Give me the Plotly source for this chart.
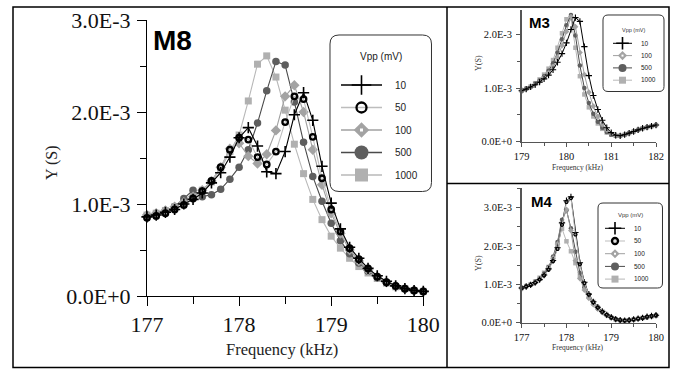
import plotly.graph_objects as go

# ---------------- data (Y in units of 1E-3 S) ----------------
VPP_M8 = ["10", "50", "100", "500", "1000"]
VPP_M3 = ["10", "100", "500", "1000"]
VPP_M4 = ["10", "50", "100", "500", "1000"]

FREQ_M8 = [177.0, 177.1, 177.2, 177.3, 177.4, 177.5, 177.6, 177.7, 177.8, 177.9,
           178.0, 178.1, 178.2, 178.3, 178.4, 178.5, 178.6, 178.7, 178.8, 178.9,
           179.0, 179.1, 179.2, 179.3, 179.4, 179.5, 179.6, 179.7, 179.8, 179.9, 180.0]
M8_10 = [0.86, 0.88, 0.91, 0.94, 1.00, 1.05, 1.12, 1.23, 1.34, 1.51,
         1.72, 1.83, 1.63, 1.35, 1.33, 1.57, 1.97, 2.21, 1.91, 1.41,
         1.01, 0.73, 0.53, 0.41, 0.30, 0.22, 0.16, 0.11, 0.08, 0.06, 0.05]
M8_50 = [0.85, 0.87, 0.90, 0.94, 0.99, 1.06, 1.14, 1.25, 1.40, 1.59,
         1.72, 1.70, 1.51, 1.43, 1.57, 1.89, 2.17, 2.14, 1.73, 1.28,
         0.94, 0.70, 0.52, 0.40, 0.30, 0.21, 0.15, 0.11, 0.08, 0.06, 0.05]
M8_100 = [0.88, 0.90, 0.93, 0.97, 1.02, 1.08, 1.15, 1.25, 1.40, 1.60,
          1.66, 1.52, 1.44, 1.54, 1.80, 2.17, 2.29, 2.00, 1.59, 1.21,
          0.90, 0.68, 0.50, 0.38, 0.28, 0.21, 0.15, 0.11, 0.08, 0.06, 0.05]
M8_500 = [0.87, 0.89, 0.92, 0.97, 1.06, 1.15, 1.08, 1.10, 1.16, 1.27,
          1.40, 1.59, 1.88, 2.23, 2.55, 2.51, 2.11, 1.67, 1.30, 1.03,
          0.79, 0.60, 0.46, 0.36, 0.27, 0.20, 0.15, 0.11, 0.08, 0.06, 0.05]
M8_1000 = [0.88, 0.90, 0.93, 0.97, 1.02, 1.08, 1.15, 1.24, 1.38, 1.57,
           1.75, 2.12, 2.52, 2.61, 2.38, 2.02, 1.65, 1.33, 1.05, 0.83,
           0.65, 0.52, 0.41, 0.32, 0.25, 0.19, 0.14, 0.10, 0.08, 0.06, 0.05]

FREQ_M3 = [179.0, 179.1, 179.2, 179.3, 179.4, 179.5, 179.6, 179.7, 179.8, 179.9,
           180.0, 180.1, 180.2, 180.3, 180.4, 180.5, 180.6, 180.7, 180.8, 180.9,
           181.0, 181.1, 181.2, 181.3, 181.4, 181.5, 181.6, 181.7, 181.8, 181.9, 182.0]
M3_10 = [0.95, 0.98, 1.02, 1.06, 1.11, 1.17, 1.24, 1.34, 1.48, 1.64,
         1.84, 2.09, 2.31, 2.24, 1.77, 1.23, 0.86, 0.60, 0.40, 0.26,
         0.17, 0.12, 0.11, 0.13, 0.16, 0.19, 0.22, 0.25, 0.27, 0.29, 0.31]
M3_100 = [0.95, 0.98, 1.02, 1.07, 1.12, 1.19, 1.28, 1.40, 1.57, 1.79,
          2.05, 2.33, 2.14, 1.66, 1.25, 0.92, 0.66, 0.47, 0.32, 0.22,
          0.15, 0.11, 0.11, 0.13, 0.16, 0.19, 0.22, 0.25, 0.27, 0.29, 0.31]
M3_500 = [0.95, 0.98, 1.02, 1.08, 1.14, 1.22, 1.32, 1.46, 1.66, 1.91,
          2.17, 2.36, 1.98, 1.42, 1.00, 0.72, 0.52, 0.37, 0.26, 0.18,
          0.13, 0.11, 0.11, 0.13, 0.16, 0.19, 0.22, 0.25, 0.27, 0.29, 0.31]
M3_1000 = [0.95, 0.99, 1.03, 1.09, 1.16, 1.25, 1.36, 1.52, 1.75, 2.02,
           2.28, 2.30, 1.75, 1.22, 0.88, 0.64, 0.47, 0.34, 0.24, 0.17,
           0.13, 0.11, 0.11, 0.13, 0.16, 0.19, 0.22, 0.25, 0.27, 0.29, 0.31]

FREQ_M4 = [177.0, 177.1, 177.2, 177.3, 177.4, 177.5, 177.6, 177.7, 177.8, 177.9,
           178.0, 178.1, 178.2, 178.3, 178.4, 178.5, 178.6, 178.7, 178.8, 178.9,
           179.0, 179.1, 179.2, 179.3, 179.4, 179.5, 179.6, 179.7, 179.8, 179.9, 180.0]
M4_10 = [0.90, 0.94, 0.98, 1.04, 1.12, 1.24, 1.40, 1.62, 1.95, 2.60,
         3.18, 3.28, 2.35, 1.56, 1.05, 0.74, 0.54, 0.40, 0.29, 0.20,
         0.14, 0.09, 0.06, 0.05, 0.06, 0.08, 0.10, 0.12, 0.15, 0.17, 0.19]
M4_50 = [0.90, 0.94, 0.98, 1.04, 1.12, 1.23, 1.38, 1.60, 1.92, 2.55,
         3.15, 3.25, 2.30, 1.52, 1.03, 0.73, 0.53, 0.39, 0.28, 0.20,
         0.13, 0.09, 0.06, 0.05, 0.06, 0.08, 0.10, 0.12, 0.15, 0.17, 0.19]
M4_100 = [0.90, 0.94, 0.99, 1.05, 1.14, 1.26, 1.43, 1.68, 2.05, 2.62,
          2.95, 2.40, 1.62, 1.15, 0.85, 0.63, 0.47, 0.35, 0.26, 0.18,
          0.12, 0.08, 0.06, 0.05, 0.06, 0.08, 0.10, 0.12, 0.14, 0.16, 0.18]
M4_500 = [0.90, 0.94, 0.99, 1.05, 1.14, 1.27, 1.45, 1.72, 2.10, 2.68,
          2.93, 2.46, 1.85, 1.30, 0.92, 0.66, 0.49, 0.36, 0.27, 0.19,
          0.13, 0.08, 0.06, 0.05, 0.06, 0.08, 0.10, 0.12, 0.14, 0.16, 0.18]
M4_1000 = [0.90, 0.95, 1.00, 1.07, 1.17, 1.30, 1.45, 1.65, 2.02, 2.45,
           2.12, 1.86, 1.55, 1.22, 0.95, 0.72, 0.54, 0.40, 0.29, 0.20,
           0.13, 0.08, 0.06, 0.05, 0.06, 0.08, 0.10, 0.12, 0.14, 0.16, 0.18]

X_TICKS_M8 = [177, 178, 179, 180]
X_TICKS_M3 = [179, 180, 181, 182]
X_TICKS_M4 = [177, 178, 179, 180]
Y_TICKS_M8 = [0, 1, 2, 3]
Y_TICKS_M3 = [0, 1, 2]
Y_TICKS_M4 = [0, 1, 2, 3]

# ---------------- layout helpers ----------------
W, H = 677, 369


def px(x):
    return x / W


def py(y):
    return 1 - y / H


def ylab(v):
    return "0.0E+0" if v == 0 else f"{v:.1f}E-3"


SERIF = "Liberation Serif, Times New Roman, serif"
SANS = "Liberation Sans Narrow, Arial Narrow, Liberation Sans, Arial, sans-serif"
SANSB = "Liberation Sans, Arial, sans-serif"

STYLE = {
    "10": dict(line="#000000", symbol="cross-thin", mcolor="#000000", mline=1.6),
    "50": dict(line="#bdbdbd", symbol="circle-open", mcolor="#000000", mline=2.3),
    "100": dict(line="#a0a0a0", symbol="diamond", mcolor="#a3a3a3", mline=0),
    "500": dict(line="#4a4a4a", symbol="circle", mcolor="#5e5e5e", mline=0),
    "1000": dict(line="#b8b8b8", symbol="square", mcolor="#b0b0b0", mline=0),
}
SIZE_MAIN = {"10": 8, "50": 5.5, "100": 8, "500": 7.5, "1000": 7}
SIZE_SMALL = {"10": 4.5, "50": 3, "100": 4.5, "500": 4.5, "1000": 4.5}
MLINE_SMALL = {"10": 1.1, "50": 1.3, "100": 0, "500": 0, "1000": 0}
SIZE_LEG_MAIN = {"10": 14, "50": 10, "100": 12, "500": 14, "1000": 13}
SIZE_LEG_SMALL = {"10": 9, "50": 6, "100": 7, "500": 8, "1000": 7}

fig = go.Figure()


def add_series(xs, ys, name, xa, ya, sizes, lw, mlines=None):
    st = STYLE[name]
    mw = st["mline"] if mlines is None else mlines[name]
    fig.add_trace(go.Scatter(
        x=xs, y=ys, mode="lines+markers", name=name, showlegend=False,
        xaxis=xa, yaxis=ya, cliponaxis=False, hoverinfo="skip",
        line=dict(color=st["line"], width=lw),
        marker=dict(symbol=st["symbol"], size=sizes[name], color=st["mcolor"],
                    line=dict(color=st["mcolor"], width=mw)),
    ))


m8 = {"10": M8_10, "50": M8_50, "100": M8_100, "500": M8_500, "1000": M8_1000}
for nm in ["1000", "500", "100", "50", "10"]:
    add_series(FREQ_M8, m8[nm], nm, "x", "y", SIZE_MAIN, 1.1)

m3 = {"10": M3_10, "100": M3_100, "500": M3_500, "1000": M3_1000}
for nm in ["1000", "500", "100", "10"]:
    add_series(FREQ_M3, m3[nm], nm, "x2", "y2", SIZE_SMALL, 1.0, MLINE_SMALL)

m4 = {"10": M4_10, "50": M4_50, "100": M4_100, "500": M4_500, "1000": M4_1000}
for nm in ["1000", "500", "100", "10", "50"]:
    add_series(FREQ_M4, m4[nm], nm, "x3", "y3", SIZE_SMALL, 1.0, MLINE_SMALL)


# legend key glyphs drawn on small helper axes (category axis = Vpp labels)
def add_legend_keys(labels, xa, ya, sizes, lw):
    for nm in labels:
        st = STYLE[nm]
        fig.add_trace(go.Scatter(x=[0, 1], y=[nm, nm], mode="lines", xaxis=xa, yaxis=ya,
                                 showlegend=False, hoverinfo="skip", cliponaxis=False,
                                 line=dict(color=st["line"], width=lw)))
        fig.add_trace(go.Scatter(x=[0.5], y=[nm], mode="markers", xaxis=xa, yaxis=ya,
                                 showlegend=False, hoverinfo="skip", cliponaxis=False,
                                 marker=dict(symbol=st["symbol"], size=sizes[nm], color=st["mcolor"],
                                             line=dict(color=st["mcolor"], width=st["mline"]))))
        if nm == "100":
            fig.add_trace(go.Scatter(x=[0.5], y=[nm], mode="markers", xaxis=xa, yaxis=ya,
                                     showlegend=False, hoverinfo="skip", cliponaxis=False,
                                     marker=dict(symbol="square", size=max(2, sizes[nm] // 4),
                                                 color="white")))


add_legend_keys(VPP_M8, "x4", "y4", SIZE_LEG_MAIN, 1.3)
add_legend_keys(VPP_M3, "x5", "y5", SIZE_LEG_SMALL, 1.0)
add_legend_keys(VPP_M4, "x6", "y6", SIZE_LEG_SMALL, 1.0)


def data_axis_x(dom, rng, ticks, fsize, ticklen, mlen, color, lw, anchor):
    return dict(domain=dom, range=rng, anchor=anchor, tickmode="array", tickvals=ticks,
                ticktext=[str(t) for t in ticks], ticks="outside", ticklen=ticklen, tickwidth=1,
                tickcolor=color, showline=True, linecolor=color, linewidth=lw,
                showgrid=False, zeroline=False, fixedrange=True,
                tickfont=dict(family=SERIF, size=fsize, color="#111"),
                minor=dict(dtick=0.5, tick0=rng[0], ticks="outside", ticklen=mlen,
                           tickcolor=color, tickwidth=1, showgrid=False))


def data_axis_y(dom, rng, ticks, fsize, ticklen, mlen, color, lw, anchor, standoff):
    return dict(domain=dom, range=rng, anchor=anchor, tickmode="array", tickvals=ticks,
                ticktext=[ylab(t) for t in ticks], ticks="outside", ticklen=ticklen, tickwidth=1,
                tickcolor=color, showline=True, linecolor=color, linewidth=lw,
                showgrid=False, zeroline=False, fixedrange=True, ticklabelstandoff=standoff,
                tickfont=dict(family=SERIF, size=fsize, color="#111"),
                minor=dict(dtick=0.5, tick0=0, ticks="outside", ticklen=mlen,
                           tickcolor=color, tickwidth=1, showgrid=False))


def legend_axes(x0, x1, yc_top, spacing, labels, fsize, anchor_x, anchor_y, standoff):
    n = len(labels)
    top = yc_top - spacing / 2
    bot = top + n * spacing
    xa = dict(domain=[px(x0), px(x1)], range=[0, 1], visible=False, anchor=anchor_y,
              fixedrange=True)
    ya = dict(domain=[py(bot), py(top)], type="category", categoryorder="array",
              categoryarray=labels, range=[n - 0.5, -0.5], anchor=anchor_x, side="right",
              showgrid=False, zeroline=False, showline=False, ticks="", fixedrange=True,
              ticklabelstandoff=standoff,
              tickfont=dict(family=SANS, size=fsize, color="#222"))
    return xa, ya


lx4, ly4 = legend_axes(341, 382, 85, 22.5, VPP_M8, 10, "x4", "y4", 12)
lx5, ly5 = legend_axes(613, 632, 43.3, 12.3, VPP_M3, 6.5, "x5", "y5", 8)
lx6, ly6 = legend_axes(605, 625, 228.3, 12.7, VPP_M4, 6.5, "x6", "y6", 8)


def rounded_box(x0, y0, x1, y1, r):
    def P(x, y):
        return f"{px(x):.5f},{py(y):.5f}"
    return (f"M {P(x0 + r, y0)} L {P(x1 - r, y0)} Q {P(x1, y0)} {P(x1, y0 + r)} "
            f"L {P(x1, y1 - r)} Q {P(x1, y1)} {P(x1 - r, y1)} L {P(x0 + r, y1)} "
            f"Q {P(x0, y1)} {P(x0, y1 - r)} L {P(x0, y0 + r)} Q {P(x0, y0)} {P(x0 + r, y0)} Z")


shapes = [
    dict(type="rect", xref="paper", yref="paper", x0=px(13), x1=px(669), y0=py(367.5), y1=py(7),
         line=dict(color="black", width=1.5), layer="below"),
    dict(type="line", xref="paper", yref="paper", x0=px(447), x1=px(447), y0=py(367.5), y1=py(7),
         line=dict(color="black", width=1.5), layer="below"),
    dict(type="line", xref="paper", yref="paper", x0=px(447), x1=px(669), y0=py(183.5), y1=py(183.5),
         line=dict(color="black", width=1.5), layer="below"),
    dict(type="path", xref="paper", yref="paper", path=rounded_box(330, 35, 431.5, 191.5, 9),
         line=dict(color="#333", width=1), fillcolor="white", layer="below"),
    dict(type="path", xref="paper", yref="paper", path=rounded_box(603, 15, 664, 91.5, 5),
         line=dict(color="#333", width=1), fillcolor="white", layer="below"),
    dict(type="path", xref="paper", yref="paper", path=rounded_box(598, 203, 662.5, 288, 5),
         line=dict(color="#333", width=1), fillcolor="white", layer="below"),
]

annotations = [
    dict(text="<b>M8</b>", x=px(151), y=py(40), xanchor="left", yanchor="middle",
         font=dict(family=SANSB, size=28, color="black")),
    dict(text="<b>M3</b>", x=px(527), y=py(22.5), xanchor="left", yanchor="middle",
         font=dict(family=SANSB, size=15, color="black")),
    dict(text="<b>M4</b>", x=px(529), y=py(201), xanchor="left", yanchor="middle",
         font=dict(family=SANSB, size=15, color="black")),
    dict(text="Frequency (kHz)", x=px(282), y=py(349), xanchor="center", yanchor="middle",
         font=dict(family=SERIF, size=16.5, color="#222")),
    dict(text="Y (S)", x=px(52), y=py(163), xanchor="center", yanchor="middle", textangle=-90,
         font=dict(family=SERIF, size=16, color="#222")),
    dict(text="Frequency (kHz)", x=px(578), y=py(167.5), xanchor="center", yanchor="middle",
         font=dict(family=SERIF, size=7.5, color="#333")),
    dict(text="Y(S)", x=px(478), y=py(63), xanchor="center", yanchor="middle", textangle=-90,
         font=dict(family=SERIF, size=8, color="#333")),
    dict(text="Frequency (kHz)", x=px(578), y=py(347.5), xanchor="center", yanchor="middle",
         font=dict(family=SERIF, size=7.5, color="#333")),
    dict(text="Y(S)", x=px(478), y=py(263), xanchor="center", yanchor="middle", textangle=-90,
         font=dict(family=SERIF, size=8, color="#333")),
    dict(text="Vpp (mV)", x=px(381), y=py(56.5), xanchor="center", yanchor="middle",
         font=dict(family=SANS, size=10, color="#222")),
    dict(text="Vpp (mV)", x=px(633.5), y=py(30), xanchor="center", yanchor="middle",
         font=dict(family=SANS, size=5.5, color="#333")),
    dict(text="Vpp (mV)", x=px(630), y=py(215), xanchor="center", yanchor="middle",
         font=dict(family=SANS, size=6, color="#333")),
]
for a in annotations:
    a.update(xref="paper", yref="paper", showarrow=False)

fig.update_layout(
    width=W, height=H, margin=dict(l=0, r=0, t=0, b=0, autoexpand=False), autosize=False,
    paper_bgcolor="white", plot_bgcolor="rgba(0,0,0,0)", showlegend=False, hovermode=False,
    xaxis=data_axis_x([px(147), px(423.3)], [177, 180], X_TICKS_M8, 22, 9, 7, "black", 1, "y"),
    yaxis=data_axis_y([py(296), py(20)], [0, 3.0], Y_TICKS_M8, 22, 9, 6, "black", 1, "x", 2),
    xaxis2=data_axis_x([px(521.7), px(656)], [179, 182], X_TICKS_M3, 10.5, 4, 3, "#555", 1.5, "y2"),
    yaxis2=data_axis_y([py(141.7), py(141.7 - 2.45 * 53.7)], [0, 2.45], Y_TICKS_M3, 10.5, 4, 3,
                       "#555", 1.5, "x2", 2),
    xaxis3=data_axis_x([px(521.7), px(656)], [177, 180], X_TICKS_M4, 10.5, 4, 3, "#555", 1.5, "y3"),
    yaxis3=data_axis_y([py(322.5), py(322.5 - 3.5 * 38.3)], [0, 3.5], Y_TICKS_M4, 10.5, 4, 3,
                       "#555", 1.5, "x3", 2),
    xaxis4=lx4, yaxis4=ly4, xaxis5=lx5, yaxis5=ly5, xaxis6=lx6, yaxis6=ly6,
    shapes=shapes, annotations=annotations,
)

fig.write_html(
    "out.html",
    config={"displayModeBar": False, "staticPlot": True},
    post_script="document.body.style.margin='0px';document.body.style.overflow='hidden';",
)
